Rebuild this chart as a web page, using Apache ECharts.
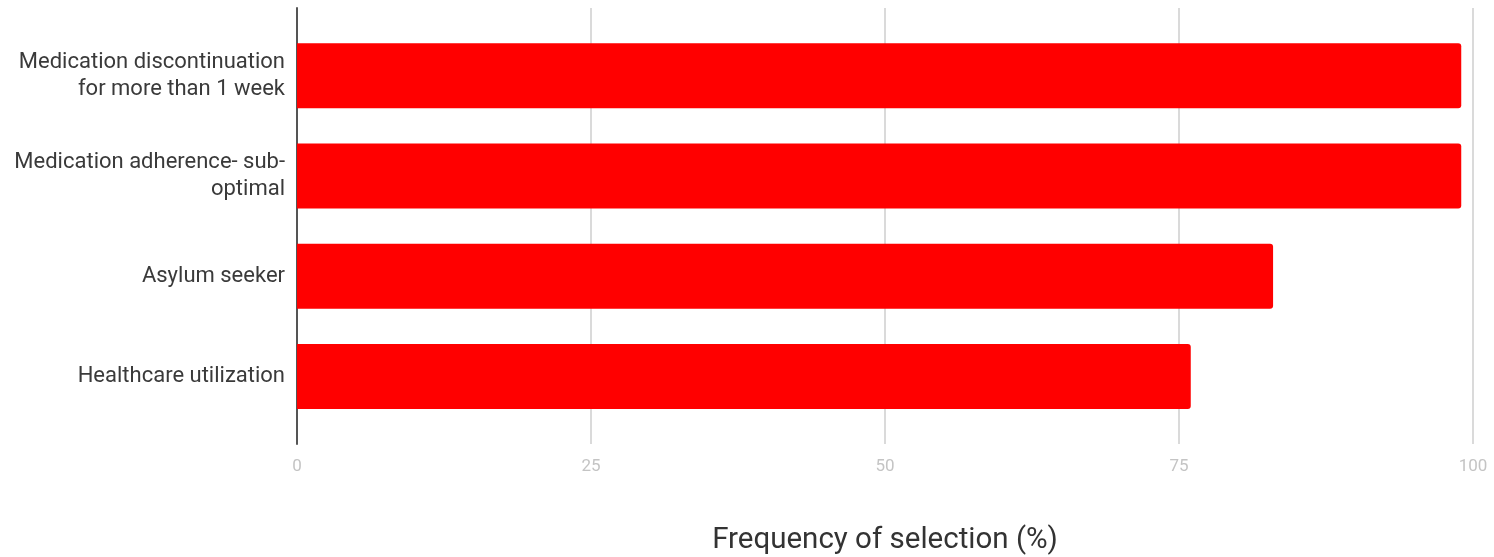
<!DOCTYPE html>
<html>
<head>
<meta charset="utf-8">
<script src="https://cdn.jsdelivr.net/npm/echarts@6/dist/echarts.min.js"></script>
<style>
html,body{margin:0;padding:0;background:#fff;}
#chart{width:1494px;height:557px;}
</style>
</head>
<body>
<div id="chart"></div>
<script>
const categories = [
  "Medication discontinuation\nfor more than 1 week",
  "Medication adherence- sub-\noptimal",
  "Asylum seeker",
  "Healthcare utilization"
];
const values = [99, 99, 83, 76];
const xTicks = [0, 25, 50, 75, 100];
const xTitle = "Frequency of selection (%)";

const chart = echarts.init(document.getElementById('chart'), null, {renderer: 'canvas'});
const FONT = 'Roboto';
const option = {
  animation: false,
  backgroundColor: '#ffffff',
  grid: [
    {left: 297, right: 21, top: 8, bottom: 113, outerBoundsMode: 'none', containLabel: false},
    {left: 297, right: 21, top: 25.5, height: 401, outerBoundsMode: 'none', containLabel: false}
  ],
  xAxis: [
    {
      gridIndex: 0, type: 'value', min: xTicks[0], max: xTicks[xTicks.length - 1], interval: 25,
      axisLine: {show: false}, axisTick: {show: false},
      splitLine: {show: true, lineStyle: {color: '#dadada', width: 2}},
      axisLabel: {color: '#c4c4c4', fontSize: 17, fontFamily: FONT, margin: 14},
      name: xTitle, nameLocation: 'middle', nameGap: 82,
      nameTextStyle: {color: '#333333', fontSize: 29.5, fontFamily: FONT}
    },
    {
      gridIndex: 1, type: 'value', min: 0, max: 100, show: false
    }
  ],
  yAxis: [
    {
      gridIndex: 0, type: 'value', min: 0, max: 1,
      axisLine: {show: true, lineStyle: {color: '#555555', width: 2}},
      axisTick: {show: false}, axisLabel: {show: false}, splitLine: {show: false}
    },
    {
      gridIndex: 1, type: 'category', data: categories, inverse: true,
      axisLine: {show: false}, axisTick: {show: false}, splitLine: {show: false},
      axisLabel: {color: '#3a3a3a', fontSize: 22, fontFamily: FONT, lineHeight: 27, margin: 12, align: 'right'}
    }
  ],
  series: [
    {
      type: 'bar', xAxisIndex: 1, yAxisIndex: 1, data: values,
      barWidth: 65,
      itemStyle: {color: '#ff0000', borderRadius: [0, 3, 3, 0]},
      z: 3
    }
  ]
};
chart.setOption(option);
</script>
</body>
</html>
